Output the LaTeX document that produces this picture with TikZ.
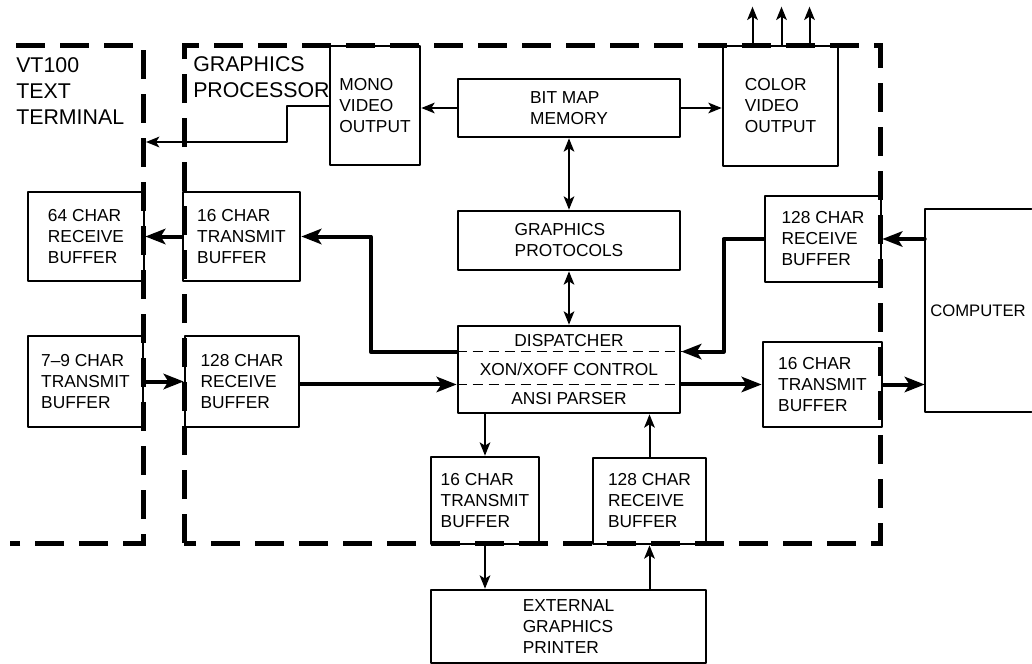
\documentclass[tikz,border=0pt]{standalone}
\usepackage{fontspec}
\setmainfont{Liberation Sans}
\usepackage{tikz}
\usetikzlibrary{arrows.meta,calc}
\newcommand{\boxfont}{\fontsize{13}{15.75}\selectfont}
\newcommand{\zonefont}{\fontsize{16}{19.5}\selectfont}
\tikzset{
  every picture/.style={line join=round, line cap=round, >=Stealth},
  buf/.style={draw, line width=2pt, align=left, inner sep=0pt, font=\boxfont},
  boxsize/.style 2 args={minimum width=#1*0.75pt, minimum height=#2*0.75pt},
  busline/.style={line width=3pt, -{Stealth[length=15pt,width=11.5pt,inset=3.5pt]}},
  sigline/.style={line width=1.5pt, -{Stealth[length=10pt,width=8pt,inset=2.5pt]}},
  sigboth/.style={line width=1.5pt, {Stealth[length=10pt,width=8pt,inset=2.5pt]}-{Stealth[length=10pt,width=8pt,inset=2.5pt]}},
  zoneline/.style={line width=3.75pt, line cap=butt, line join=miter, dash pattern=on 22pt off 11pt},
  zonelabel/.style={anchor=north west, inner sep=0pt, align=left, font=\zonefont},
  sepline/.style={line width=1.3pt, line cap=butt, dash pattern=on 8pt off 4pt},
}

\begin{document}
\begin{tikzpicture}[x=0.75pt,y=-0.75pt]
\useasboundingbox (0,0) rectangle (1032,664);
% dashed frames
\draw[zoneline] (16,45) -- (143,45) -- (143,543) -- (10,543);
\draw[zoneline] (184,543) -- (184,45) -- (880,45) -- (880,543) -- cycle;
\node[zonelabel] (vtlabel) at (16,57) {VT100\\TEXT\\TERMINAL};
\node[zonelabel] (gplabel) at (193,56) {GRAPHICS\\PROCESSOR};
% graphics processor blocks
\node[buf, boxsize={90}{119}] (mono) at (375,105.5) {MONO\\VIDEO\\OUTPUT};
\node[buf, boxsize={222}{58}] (bitmap) at (569,108) {BIT MAP\\MEMORY};
\node[buf, boxsize={115}{120}] (color) at (780.5,106) {COLOR\\VIDEO\\OUTPUT};
\node[buf, boxsize={222}{59}] (protocols) at (569,240.5) {GRAPHICS\\PROTOCOLS};
\node[buf, boxsize={222}{87}, align=center, font=\fontsize{13}{21.75}\selectfont] (disp) at (569,369.5) {DISPATCHER\\XON/XOFF CONTROL\\ANSI PARSER};
\coordinate (d1w) at ($(disp.north west)!0.3!(disp.south west)$);
\coordinate (d1e) at ($(disp.north east)!0.3!(disp.south east)$);
\coordinate (d2w) at ($(disp.north west)!0.667!(disp.south west)$);
\coordinate (d2e) at ($(disp.north east)!0.667!(disp.south east)$);
\draw[sepline] (d1w) -- (d1e);
\draw[sepline] (d2w) -- (d2e);
\node[buf, boxsize={117}{89}] (gptx) at (241.5,236.5) {16 CHAR\\TRANSMIT\\BUFFER};
\node[buf, boxsize={114}{91}] (gprx) at (242,381.5) {128 CHAR\\RECEIVE\\BUFFER};
\node[buf, boxsize={116}{86}] (hostrx) at (823,239) {128 CHAR\\RECEIVE\\BUFFER};
\node[buf, boxsize={119}{85}] (hosttx) at (822.5,384.5) {16 CHAR\\TRANSMIT\\BUFFER};
\node[buf, boxsize={108}{87}] (prtx) at (485,500.5) {16 CHAR\\TRANSMIT\\BUFFER};
\node[buf, boxsize={113}{86}] (prrx) at (649.5,501) {128 CHAR\\RECEIVE\\BUFFER};
% terminal, host and printer
\node[buf, boxsize={116}{89}] (vtrx) at (86,236.5) {64 CHAR\\RECEIVE\\BUFFER};
\node[buf, boxsize={115}{91}] (vttx) at (85.5,381.5) {7–9 CHAR\\TRANSMIT\\BUFFER};
\node[buf, boxsize={275}{73}] (printer) at (568.5,626.5) {EXTERNAL\\GRAPHICS\\PRINTER};
\node[font=\fontsize{12.5}{15}\selectfont, inner sep=0pt, boxsize={106}{203}] (comp) at (978,310.5) {COMPUTER};
\draw[line width=1.5pt] (comp.north east) -- (comp.north west) -- (comp.south west) -- (comp.south east);
% video paths
\draw[sigline] (bitmap.west) -- (bitmap.west -| mono.east);
\draw[sigline] (bitmap.east) -- (bitmap.east -| color.west);
\draw[sigboth] (bitmap.south) -- (protocols.north);
\draw[sigboth] (protocols.south) -- (disp.north);
\coordinate (vtin) at (146,142);
\draw[sigline] (mono.west) -- ++(-42,0) |- (vtin);
\foreach \dx in {-28,1,29}
  \draw[sigline] ($(color.north)+(\dx,0)$) -- ++(0,-38);
% data paths
\draw[busline] (gptx.west) -- (vtrx.east);
\draw[busline] (d1w) -- ++(-86,0) |- (gptx.east);
\draw[busline] (vttx.east) -- (gprx.west);
\draw[busline] (gprx.east |- d2w) -- (d2w);
\draw[busline] (d2e) -- (d2e -| hosttx.west);
\draw[busline] (hostrx.west) -- ++(-40,0) |- (d1e);
\draw[busline] (hostrx.east -| comp.west) -- (hostrx.east);
\draw[busline] (hosttx.east) -- (hosttx.east -| comp.west);
% printer paths
\draw[sigline] (prtx.north |- disp.south) -- (prtx.north);
\draw[sigline] (prtx.south) -- (prtx.south |- printer.north);
\draw[sigline] (prrx.south |- printer.north) -- (prrx.south);
\draw[sigline] (prrx.north) -- (prrx.north |- disp.south);
\end{tikzpicture}
\end{document}
